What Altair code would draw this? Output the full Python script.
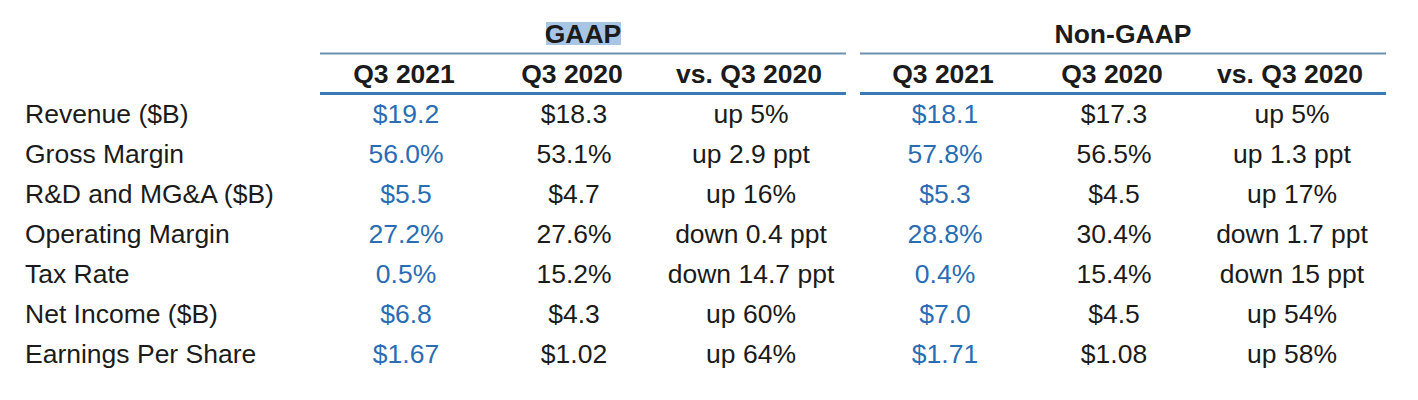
import altair as alt
import pandas as pd

# ---- data ----
metrics = ["Revenue ($B)", "Gross Margin", "R&D and MG&A ($B)", "Operating Margin",
           "Tax Rate", "Net Income ($B)", "Earnings Per Share"]
gaap_q3_2021 = ["$19.2", "56.0%", "$5.5", "27.2%", "0.5%", "$6.8", "$1.67"]
gaap_q3_2020 = ["$18.3", "53.1%", "$4.7", "27.6%", "15.2%", "$4.3", "$1.02"]
gaap_vs = ["up 5%", "up 2.9 ppt", "up 16%", "down 0.4 ppt", "down 14.7 ppt", "up 60%", "up 64%"]
nongaap_q3_2021 = ["$18.1", "57.8%", "$5.3", "28.8%", "0.4%", "$7.0", "$1.71"]
nongaap_q3_2020 = ["$17.3", "56.5%", "$4.5", "30.4%", "15.4%", "$4.5", "$1.08"]
nongaap_vs = ["up 5%", "up 1.3 ppt", "up 17%", "down 1.7 ppt", "down 15 ppt", "up 54%", "up 58%"]
column_headers = ["Q3 2021", "Q3 2020", "vs. Q3 2020"]
group_titles = ["GAAP", "Non-GAAP"]

df = pd.DataFrame({
    "metric": metrics,
    "g1": gaap_q3_2021, "g2": gaap_q3_2020, "g3": gaap_vs,
    "n1": nongaap_q3_2021, "n2": nongaap_q3_2020, "n3": nongaap_vs,
})

# ---- style / layout ----
FONT = "Liberation Sans"
FS = 26.5
DARK = "#1b1b1b"
BLUE = "#2a6db3"
LINE_TOP = "#6f8fae"
LINE_BOT = "#3b79b6"
HILITE = "#a9c5e4"
O = 8  # page margin offset

col_x = {"g1": 406, "g2": 574, "g3": 751, "n1": 945, "n2": 1114, "n3": 1292}
col_color = {"g1": BLUE, "g2": DARK, "g3": DARK, "n1": BLUE, "n2": DARK, "n3": DARK}

yscale = alt.Scale(domain=metrics, range=[115 - O, 355 - O], padding=0)
Y = alt.Y("metric:N", scale=yscale, axis=None)

base = alt.Chart(df)
layers = []

# row labels
layers.append(base.mark_text(align="left", baseline="middle", font=FONT, fontSize=FS,
                             color=DARK, x=25 - O).encode(y=Y, text="metric:N"))
# value columns
for key, px in col_x.items():
    layers.append(base.mark_text(align="center", baseline="middle", font=FONT, fontSize=FS,
                                 color=col_color[key], x=px - O).encode(y=Y, text=f"{key}:N"))

# GAAP highlight
layers.append(alt.Chart(pd.DataFrame({"a": [0]})).mark_rect(color=HILITE).encode(
    x=alt.value(546 - O), x2=alt.value(621 - O), y=alt.value(22 - O), y2=alt.value(45 - O)))

# group titles
for title, cx in zip(group_titles, [583, 1123]):
    layers.append(alt.Chart(pd.DataFrame({"t": [title]})).mark_text(
        align="center", baseline="middle", font=FONT, fontSize=FS, fontWeight="bold",
        color=DARK).encode(x=alt.value(cx - O), y=alt.value(35 - O), text="t:N"))

# column headers
for i, key in enumerate(col_x):
    hdr = column_headers[i % 3]
    layers.append(alt.Chart(pd.DataFrame({"t": [hdr]})).mark_text(
        align="center", baseline="middle", font=FONT, fontSize=FS, fontWeight="bold",
        color=DARK).encode(x=alt.value(col_x[key] - 2 - O), y=alt.value(75 - O), text="t:N"))

# rules
for x0, x1 in [(320, 846), (860, 1386)]:
    layers.append(alt.Chart(pd.DataFrame({"a": [0]})).mark_rule(color=LINE_TOP, strokeWidth=2).encode(
        x=alt.value(x0 - O), x2=alt.value(x1 - O), y=alt.value(53.5 - O)))
    layers.append(alt.Chart(pd.DataFrame({"a": [0]})).mark_rule(color=LINE_BOT, strokeWidth=3).encode(
        x=alt.value(x0 - O), x2=alt.value(x1 - O), y=alt.value(93.5 - O)))

chart = alt.layer(*layers).properties(
    width=1402, height=384, padding=0, autosize=alt.AutoSizeParams(type="none"),
    background="white",
).configure_view(stroke=None)

chart.save("out.html", embed_options={"renderer": "svg", "actions": False})
